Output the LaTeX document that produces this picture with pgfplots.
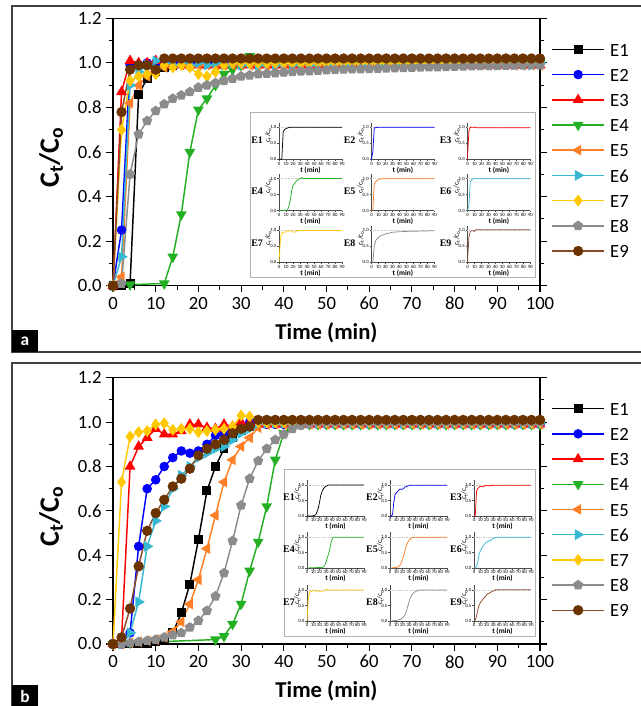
\documentclass[border=0pt]{standalone}
\usepackage{fontspec}
\setmainfont{Carlito}
\newfontfamily\tnr{Liberation Serif}
\usepackage{pgfplots}
\pgfplotsset{compat=1.18}
\usepackage{pgfplotstable}

\definecolor{cE1}{HTML}{000000}
\definecolor{cE2}{HTML}{0000FF}
\definecolor{cE3}{HTML}{FF0000}
\definecolor{cE4}{HTML}{22B022}
\definecolor{cE5}{HTML}{FF7F27}
\definecolor{cE6}{HTML}{36B8D2}
\definecolor{cE7}{HTML}{FFC800}
\definecolor{cE8}{HTML}{8C8C8C}
\definecolor{cE9}{HTML}{8A4B2A}
\definecolor{cE9m}{HTML}{6B3300}

% ---- panel a data (t in min, Ct/Co)
\pgfplotstableread[row sep=\\]{t y\\ 0 0\\ 2 0\\ 4 0.01\\ 6 0.86\\ 8 0.93\\ 10 0.96\\ 12 0.98\\ 14 0.99\\ 16 1\\ 18 1\\ 20 1\\ 22 1\\ 24 1\\ 26 1\\ 28 1\\ 30 1\\ 32 1\\ 34 1\\ 36 1\\ 38 1\\ 40 1\\ 42 1\\ 44 1\\ 46 1\\ 48 1\\ 50 1\\ 52 1\\ 54 1\\ 56 1\\ 58 1\\ 60 1\\ 62 1\\ 64 1\\ 66 1\\ 68 1\\ 70 1\\ 72 1\\ 74 1\\ 76 1\\ 78 1\\ 80 1\\ 82 1\\ 84 1\\ 86 1\\ 88 1\\ 90 1\\ 92 1\\ 94 1\\ 96 1\\ 98 1\\ 100 1\\}\taA
\pgfplotstableread[row sep=\\]{t y\\ 0 0\\ 2 0.25\\ 4 0.99\\ 6 0.99\\ 8 1\\ 10 1\\ 12 1\\ 14 1\\ 16 1\\ 18 1\\ 20 1\\ 22 1\\ 24 1\\ 26 1\\ 28 1\\ 30 1\\ 32 1\\ 34 1\\ 36 1\\ 38 1\\ 40 1\\ 42 1\\ 44 1\\ 46 1\\ 48 1\\ 50 1\\ 52 1\\ 54 1\\ 56 1\\ 58 1\\ 60 1\\ 62 1\\ 64 1\\ 66 1\\ 68 1\\ 70 1\\ 72 1\\ 74 1\\ 76 1\\ 78 1\\ 80 1\\ 82 1\\ 84 1\\ 86 1\\ 88 1\\ 90 1\\ 92 1\\ 94 1\\ 96 1\\ 98 1\\ 100 1\\}\taB
\pgfplotstableread[row sep=\\]{t y\\ 0 0\\ 2 0.87\\ 4 1.01\\ 6 1\\ 8 1\\ 10 1.01\\ 12 0.99\\ 14 0.99\\ 16 0.99\\ 18 0.99\\ 20 0.99\\ 22 0.99\\ 24 0.99\\ 26 0.99\\ 28 0.99\\ 30 0.99\\ 32 0.99\\ 34 0.99\\ 36 0.99\\ 38 0.99\\ 40 0.99\\ 42 0.99\\ 44 0.99\\ 46 0.99\\ 48 0.99\\ 50 0.99\\ 52 0.99\\ 54 0.99\\ 56 0.99\\ 58 0.99\\ 60 0.99\\ 62 0.99\\ 64 0.99\\ 66 0.99\\ 68 0.99\\ 70 0.99\\ 72 0.99\\ 74 0.99\\ 76 0.99\\ 78 0.99\\ 80 0.99\\ 82 0.99\\ 84 0.99\\ 86 0.99\\ 88 0.99\\ 90 0.99\\ 92 0.99\\ 94 0.99\\ 96 0.99\\ 98 0.99\\ 100 0.99\\}\taC
\pgfplotstableread[row sep=\\]{t y\\ 0 0\\ 4 0.005\\ 12 0.01\\ 14 0.13\\ 16 0.32\\ 18 0.60\\ 20 0.79\\ 22 0.84\\ 24 0.90\\ 26 0.95\\ 28 0.97\\ 30 0.99\\ 32 1.03\\ 34 1\\ 36 1\\ 38 1\\ 40 1\\ 42 1\\ 44 1\\ 46 1\\ 48 1\\ 50 1\\ 52 1\\ 54 1\\ 56 1\\ 58 1\\ 60 1\\ 62 1\\ 64 1\\ 66 1\\ 68 1\\ 70 1\\ 72 1\\ 74 1\\ 76 1\\ 78 1\\ 80 1\\ 82 1\\ 84 1\\ 86 1\\ 88 1\\ 90 1\\ 92 1\\ 94 1\\ 96 1\\ 98 1\\ 100 1\\}\taD
\pgfplotstableread[row sep=\\]{t y\\ 0 0\\ 2 0.04\\ 4 0.82\\ 6 0.90\\ 8 0.94\\ 10 0.96\\ 12 0.98\\ 14 0.99\\ 16 0.99\\ 18 0.99\\ 20 0.99\\ 22 0.99\\ 24 0.99\\ 26 0.99\\ 28 0.99\\ 30 0.99\\ 32 0.99\\ 34 0.99\\ 36 0.99\\ 38 0.99\\ 40 0.99\\ 42 0.99\\ 44 0.99\\ 46 0.99\\ 48 0.99\\ 50 0.99\\ 52 0.99\\ 54 0.99\\ 56 0.99\\ 58 0.99\\ 60 0.99\\ 62 0.99\\ 64 0.99\\ 66 0.99\\ 68 0.99\\ 70 0.99\\ 72 0.99\\ 74 0.99\\ 76 0.99\\ 78 0.99\\ 80 0.99\\ 82 0.99\\ 84 0.99\\ 86 0.99\\ 88 0.99\\ 90 0.99\\ 92 0.99\\ 94 0.99\\ 96 0.99\\ 98 0.99\\ 100 0.99\\}\taE
\pgfplotstableread[row sep=\\]{t y\\ 0 0\\ 2 0.13\\ 4 0.90\\ 6 0.96\\ 8 0.99\\ 10 1.01\\ 12 1\\ 14 0.99\\ 16 1\\ 18 0.99\\ 20 1\\ 22 0.99\\ 24 1\\ 26 0.99\\ 28 1\\ 30 0.99\\ 32 1\\ 34 0.99\\ 36 1\\ 38 0.99\\ 40 1\\ 42 0.99\\ 44 1\\ 46 0.99\\ 48 1\\ 50 0.99\\ 52 1\\ 54 0.99\\ 56 1\\ 58 0.99\\ 60 1\\ 62 0.99\\ 64 1\\ 66 0.99\\ 68 1\\ 70 0.99\\ 72 1\\ 74 0.99\\ 76 1\\ 78 0.99\\ 80 1\\ 82 0.99\\ 84 1\\ 86 0.99\\ 88 1\\ 90 0.99\\ 92 1\\ 94 0.99\\ 96 1\\ 98 0.99\\ 100 1\\}\taF
\pgfplotstableread[row sep=\\]{t y\\ 0 0\\ 2 0.70\\ 4 0.92\\ 6 0.94\\ 8 0.95\\ 10 0.95\\ 12 0.99\\ 14 0.98\\ 16 0.99\\ 18 0.98\\ 20 0.95\\ 22 0.94\\ 24 0.96\\ 26 0.99\\ 28 1\\ 30 1\\ 32 1\\ 34 1\\ 36 1\\ 38 1\\ 40 1\\ 42 1\\ 44 1\\ 46 1\\ 48 1\\ 50 1\\ 52 1\\ 54 1\\ 56 1\\ 58 1\\ 60 1\\ 62 1\\ 64 1\\ 66 1\\ 68 1\\ 70 1\\ 72 1\\ 74 1\\ 76 1\\ 78 1\\ 80 1\\ 82 1\\ 84 1\\ 86 1\\ 88 1\\ 90 1\\ 92 1\\ 94 1\\ 96 1\\ 98 1\\ 100 1\\}\taG
\pgfplotstableread[row sep=\\]{t y\\ 0 0\\ 2 0.01\\ 4 0.50\\ 6 0.68\\ 8 0.74\\ 10 0.785\\ 12 0.815\\ 14 0.84\\ 16 0.855\\ 18 0.87\\ 20 0.89\\ 22 0.90\\ 24 0.91\\ 26 0.92\\ 28 0.93\\ 30 0.94\\ 32 0.945\\ 34 0.95\\ 36 0.952\\ 38 0.955\\ 40 0.958\\ 42 0.96\\ 44 0.962\\ 46 0.964\\ 48 0.966\\ 50 0.968\\ 52 0.97\\ 54 0.971\\ 56 0.972\\ 58 0.973\\ 60 0.974\\ 62 0.975\\ 64 0.976\\ 66 0.977\\ 68 0.978\\ 70 0.979\\ 72 0.98\\ 74 0.981\\ 76 0.982\\ 78 0.983\\ 80 0.984\\ 82 0.985\\ 84 0.986\\ 86 0.987\\ 88 0.987\\ 90 0.988\\ 92 0.988\\ 94 0.989\\ 96 0.989\\ 98 0.99\\ 100 0.99\\}\taH
\pgfplotstableread[row sep=\\]{t y\\ 0 0\\ 2 0.78\\ 4 0.97\\ 6 0.99\\ 8 0.99\\ 10 0.97\\ 12 1.02\\ 14 1.02\\ 16 1.02\\ 18 1.02\\ 20 1.02\\ 22 1.02\\ 24 1.02\\ 26 1.02\\ 28 1.02\\ 30 1.02\\ 32 1.02\\ 34 1.02\\ 36 1.02\\ 38 1.02\\ 40 1.02\\ 42 1.02\\ 44 1.02\\ 46 1.02\\ 48 1.02\\ 50 1.02\\ 52 1.02\\ 54 1.02\\ 56 1.02\\ 58 1.02\\ 60 1.02\\ 62 1.02\\ 64 1.02\\ 66 1.02\\ 68 1.02\\ 70 1.02\\ 72 1.02\\ 74 1.02\\ 76 1.02\\ 78 1.02\\ 80 1.02\\ 82 1.02\\ 84 1.02\\ 86 1.02\\ 88 1.02\\ 90 1.02\\ 92 1.02\\ 94 1.02\\ 96 1.02\\ 98 1.02\\ 100 1.02\\}\taI

% ---- panel b data
\pgfplotstableread[row sep=\\]{t y\\ 0 0\\ 2 0\\ 4 0\\ 6 0\\ 8 0\\ 10 0.01\\ 12 0.02\\ 14 0.05\\ 16 0.14\\ 18 0.27\\ 20 0.47\\ 22 0.69\\ 24 0.80\\ 26 0.88\\ 28 0.93\\ 30 0.96\\ 32 0.98\\ 34 1\\ 36 1\\ 38 1\\ 40 1\\ 42 1\\ 44 1\\ 46 1\\ 48 1\\ 50 1\\ 52 1\\ 54 1\\ 56 1\\ 58 1\\ 60 1\\ 62 1\\ 64 1\\ 66 1\\ 68 1\\ 70 1\\ 72 1\\ 74 1\\ 76 1\\ 78 1\\ 80 1\\ 82 1\\ 84 1\\ 86 1\\ 88 1\\ 90 1\\ 92 1\\ 94 1\\ 96 1\\ 98 1\\ 100 1\\}\tbA
\pgfplotstableread[row sep=\\]{t y\\ 0 0\\ 2 0\\ 4 0.05\\ 6 0.44\\ 8 0.70\\ 10 0.74\\ 12 0.80\\ 14 0.84\\ 16 0.87\\ 18 0.86\\ 20 0.87\\ 22 0.90\\ 24 0.94\\ 26 0.95\\ 28 0.97\\ 30 0.98\\ 32 1\\ 34 0.99\\ 36 0.99\\ 38 0.99\\ 40 0.99\\ 42 0.99\\ 44 0.99\\ 46 0.99\\ 48 0.99\\ 50 0.99\\ 52 0.99\\ 54 0.99\\ 56 0.99\\ 58 0.99\\ 60 0.99\\ 62 0.99\\ 64 0.99\\ 66 0.99\\ 68 0.99\\ 70 0.99\\ 72 0.99\\ 74 0.99\\ 76 0.99\\ 78 0.99\\ 80 0.99\\ 82 0.99\\ 84 0.99\\ 86 0.99\\ 88 0.99\\ 90 0.99\\ 92 0.99\\ 94 0.99\\ 96 0.99\\ 98 0.99\\ 100 0.99\\}\tbB
\pgfplotstableread[row sep=\\]{t y\\ 0 0\\ 2 0.02\\ 4 0.80\\ 6 0.89\\ 8 0.93\\ 10 0.97\\ 12 0.945\\ 14 0.945\\ 16 0.96\\ 18 0.99\\ 20 0.99\\ 22 0.975\\ 24 0.97\\ 26 0.99\\ 28 0.98\\ 30 1\\ 32 0.995\\ 34 0.99\\ 36 0.99\\ 38 0.99\\ 40 0.99\\ 42 0.99\\ 44 0.99\\ 46 0.99\\ 48 0.99\\ 50 0.99\\ 52 0.99\\ 54 0.99\\ 56 0.99\\ 58 0.99\\ 60 0.99\\ 62 0.99\\ 64 0.99\\ 66 0.99\\ 68 0.99\\ 70 0.99\\ 72 0.99\\ 74 0.99\\ 76 0.99\\ 78 0.99\\ 80 0.99\\ 82 0.99\\ 84 0.99\\ 86 0.99\\ 88 0.99\\ 90 0.99\\ 92 0.99\\ 94 0.99\\ 96 0.99\\ 98 0.99\\ 100 0.99\\}\tbC
\pgfplotstableread[row sep=\\]{t y\\ 0 0\\ 4 0.005\\ 24 0.02\\ 26 0.035\\ 28 0.09\\ 30 0.18\\ 32 0.33\\ 34 0.46\\ 36 0.62\\ 38 0.83\\ 40 0.95\\ 42 0.99\\ 44 0.99\\ 46 0.99\\ 48 0.99\\ 50 0.99\\ 52 0.99\\ 54 0.99\\ 56 0.99\\ 58 0.99\\ 60 0.99\\ 62 0.99\\ 64 0.99\\ 66 0.99\\ 68 0.99\\ 70 0.99\\ 72 0.99\\ 74 0.99\\ 76 0.99\\ 78 0.99\\ 80 0.99\\ 82 0.99\\ 84 0.99\\ 86 0.99\\ 88 0.99\\ 90 0.99\\ 92 0.99\\ 94 0.99\\ 96 0.99\\ 98 0.99\\ 100 0.99\\}\tbD
\pgfplotstableread[row sep=\\]{t y\\ 0 0\\ 2 0\\ 4 0.005\\ 6 0.01\\ 8 0.015\\ 10 0.02\\ 12 0.03\\ 14 0.056\\ 16 0.10\\ 18 0.18\\ 20 0.29\\ 22 0.43\\ 24 0.58\\ 26 0.73\\ 28 0.83\\ 30 0.89\\ 32 0.93\\ 34 0.975\\ 36 0.99\\ 38 0.99\\ 40 0.99\\ 42 0.99\\ 44 0.99\\ 46 0.99\\ 48 0.99\\ 50 0.99\\ 52 0.99\\ 54 0.99\\ 56 0.99\\ 58 0.99\\ 60 0.99\\ 62 0.99\\ 64 0.99\\ 66 0.99\\ 68 0.99\\ 70 0.99\\ 72 0.99\\ 74 0.99\\ 76 0.99\\ 78 0.99\\ 80 0.99\\ 82 0.99\\ 84 0.99\\ 86 0.99\\ 88 0.99\\ 90 0.99\\ 92 0.99\\ 94 0.99\\ 96 0.99\\ 98 0.99\\ 100 0.99\\}\tbE
\pgfplotstableread[row sep=\\]{t y\\ 0 0\\ 2 0\\ 4 0.05\\ 6 0.19\\ 8 0.44\\ 10 0.555\\ 12 0.62\\ 14 0.70\\ 16 0.76\\ 18 0.80\\ 20 0.84\\ 22 0.86\\ 24 0.88\\ 26 0.89\\ 28 0.92\\ 30 0.95\\ 32 0.97\\ 34 0.995\\ 36 0.995\\ 38 0.995\\ 40 0.995\\ 42 0.995\\ 44 0.995\\ 46 0.995\\ 48 0.995\\ 50 0.995\\ 52 0.995\\ 54 0.995\\ 56 0.995\\ 58 0.995\\ 60 0.995\\ 62 0.995\\ 64 0.995\\ 66 0.995\\ 68 0.995\\ 70 0.995\\ 72 0.995\\ 74 0.995\\ 76 0.995\\ 78 0.995\\ 80 0.995\\ 82 0.995\\ 84 0.995\\ 86 0.995\\ 88 0.995\\ 90 0.995\\ 92 0.995\\ 94 0.995\\ 96 0.995\\ 98 0.995\\ 100 0.995\\}\tbF
\pgfplotstableread[row sep=\\]{t y\\ 0 0\\ 2 0.73\\ 4 0.935\\ 6 0.955\\ 8 0.96\\ 10 0.99\\ 12 0.995\\ 14 0.965\\ 16 0.97\\ 18 0.97\\ 20 0.955\\ 22 0.96\\ 24 0.965\\ 26 0.97\\ 28 0.98\\ 30 1.03\\ 32 1.025\\ 34 1\\ 36 1\\ 38 1\\ 40 1\\ 42 1\\ 44 1\\ 46 1\\ 48 1\\ 50 1\\ 52 1\\ 54 1\\ 56 1\\ 58 1\\ 60 1\\ 62 1\\ 64 1\\ 66 1\\ 68 1\\ 70 1\\ 72 1\\ 74 1\\ 76 1\\ 78 1\\ 80 1\\ 82 1\\ 84 1\\ 86 1\\ 88 1\\ 90 1\\ 92 1\\ 94 1\\ 96 1\\ 98 1\\ 100 1\\}\tbG
\pgfplotstableread[row sep=\\]{t y\\ 0 0\\ 2 0\\ 4 0.005\\ 6 0.01\\ 8 0.015\\ 10 0.02\\ 12 0.03\\ 14 0.04\\ 16 0.05\\ 18 0.075\\ 20 0.105\\ 22 0.15\\ 24 0.215\\ 26 0.32\\ 28 0.465\\ 30 0.625\\ 32 0.745\\ 34 0.825\\ 36 0.88\\ 38 0.92\\ 40 0.945\\ 42 0.97\\ 44 0.985\\ 46 0.995\\ 48 1\\ 50 1\\ 52 1\\ 54 1\\ 56 1\\ 58 1\\ 60 1\\ 62 1\\ 64 1\\ 66 1\\ 68 1\\ 70 1\\ 72 1\\ 74 1\\ 76 1\\ 78 1\\ 80 1\\ 82 1\\ 84 1\\ 86 1\\ 88 1\\ 90 1\\ 92 1\\ 94 1\\ 96 1\\ 98 1\\ 100 1\\}\tbH
\pgfplotstableread[row sep=\\]{t y\\ 0 0\\ 2 0.03\\ 4 0.16\\ 6 0.35\\ 8 0.51\\ 10 0.59\\ 12 0.65\\ 14 0.71\\ 16 0.745\\ 18 0.79\\ 20 0.85\\ 22 0.88\\ 24 0.90\\ 26 0.92\\ 28 0.95\\ 30 0.97\\ 32 0.98\\ 34 1.01\\ 36 1.01\\ 38 1.01\\ 40 1.01\\ 42 1.01\\ 44 1.01\\ 46 1.01\\ 48 1.01\\ 50 1.01\\ 52 1.01\\ 54 1.01\\ 56 1.01\\ 58 1.01\\ 60 1.01\\ 62 1.01\\ 64 1.01\\ 66 1.01\\ 68 1.01\\ 70 1.01\\ 72 1.01\\ 74 1.01\\ 76 1.01\\ 78 1.01\\ 80 1.01\\ 82 1.01\\ 84 1.01\\ 86 1.01\\ 88 1.01\\ 90 1.01\\ 92 1.01\\ 94 1.01\\ 96 1.01\\ 98 1.01\\ 100 1.01\\}\tbI

\pgfplotsset{
  mainax/.style={
    scale only axis, width=320.25pt, anchor=south west, clip=false,
    xmin=0, xmax=100, ymin=0, ymax=1.2,
    xtick={0,10,...,100}, ytick={0,0.2,0.4,0.6,0.8,1.0,1.2},
    minor x tick num=1, minor y tick num=1,
    tick align=outside, xtick pos=left, ytick pos=both,
    major tick length=5pt, minor tick length=3pt,
    axis line style={line width=0.9pt},
    every tick/.style={line width=0.8pt, black},
    /pgf/number format/assume math mode=true,
    tick label style={font=\fontsize{14}{14}\selectfont},
    yticklabel style={/pgf/number format/.cd, fixed, fixed zerofill, precision=1},
    xlabel={\textbf{Time (min)}},
    xlabel style={font=\fontsize{17}{17}\selectfont, at={(axis description cs:0.5,-0.176)}, anchor=center},
    ylabel={\textbf{C\textsubscript{t}/C\textsubscript{o}}},
    ylabel style={font=\fontsize{21}{21}\selectfont, at={(axis description cs:-0.145,0.48)}, anchor=center},
    legend image code/.code={\draw[mark repeat=2,mark phase=2] plot coordinates {(0pt,0pt) (19.5pt,0pt) (39pt,0pt)};},
    legend cell align=left,
    legend style={draw=none, fill=none, at={(1.026,0.91)}, anchor=north west,
      inner sep=0pt, font=\fontsize{14}{14}\selectfont, row sep=8.9pt, column sep=4pt,
      nodes={inner sep=0pt, text height=10pt, text depth=0pt}},
  },
  sE1/.style={color=cE1, line width=1.1pt, mark=square*, mark size=2.8pt},
  sE2/.style={color=cE2, line width=1.1pt, mark=*, mark size=3pt},
  sE3/.style={color=cE3, line width=1.1pt, mark=triangle*, mark size=3.6pt},
  sE4/.style={color=cE4, line width=1.1pt, mark=triangle*, mark size=3.6pt, mark options={rotate=180}},
  sE5/.style={color=cE5, line width=1.1pt, mark=triangle*, mark size=3.6pt, mark options={rotate=90}},
  sE6/.style={color=cE6, line width=1.1pt, mark=triangle*, mark size=3.6pt, mark options={rotate=-90}},
  sE7/.style={color=cE7, line width=1.1pt, mark=diamond*, mark size=3.6pt},
  sE8/.style={color=cE8, line width=1.1pt, mark=pentagon*, mark size=3.3pt},
  sE9/.style={color=cE9, line width=1.1pt, mark=*, mark size=3.3pt, mark options={fill=cE9m, draw=cE9m}},
  smallax/.style={
    scale only axis, anchor=south west, clip mode=individual,
    xmin=0, xmax=90, ymin=0, ymax=1.15,
    axis lines*=left, axis line style={line width=0.35pt, black!70},
    xtick={0,10,...,90}, ytick={0,0.5,1},
    /pgf/number format/assume math mode=true,
    yticklabel style={/pgf/number format/.cd, fixed, fixed zerofill, precision=1},
    tick label style={font=\fontsize{3.6}{3.6}\selectfont, inner sep=0.6pt},
    major tick length=1.2pt, tick align=outside,
    every tick/.style={line width=0.3pt, black!70},
    xlabel={\textbf{t (min)}},
    xlabel style={font=\fontsize{5.5}{5.5}\selectfont, at={(axis description cs:0.5,-0.3)}, anchor=center},
    ylabel={c\textsubscript{t}/c\textsubscript{o}},
    ylabel style={font=\fontsize{5.5}{5.5}\selectfont, at={(axis description cs:-0.17,0.66)}, anchor=center},
  },
}

% x, y, width, height, table, colour, name, label offset
\newcommand{\smallplot}[8]{%
  \begin{axis}[smallax, at={(#1,#2)}, width=#3, height=#4]
    \draw[gray!45, densely dotted, line width=0.3pt] (axis cs:0,1) -- (axis cs:90,1);
    \addplot[color=#6, line width=0.55pt, no marks] table[x=t,y=y]{#5};
    \node[anchor=east, inner sep=0pt, font=\tnr\bfseries\fontsize{7.5}{7.5}\selectfont]
      at (axis description cs:#8,0.52) {#7};
  \end{axis}}

\begin{document}
\begin{tikzpicture}
\path[use as bounding box] (0,0) rectangle (480pt,-529.5pt);

% panel frames and tags
\draw[line width=0.9pt, black!75] (9pt,-4.5pt) rectangle (490pt,-264pt);
\draw[line width=0.9pt, black!75] (9pt,-272.25pt) rectangle (490pt,-545pt);
\fill[black] (9pt,-247.5pt) rectangle (28.5pt,-264pt);
\node[white, font=\bfseries\fontsize{13}{13}\selectfont] at (18.75pt,-255.75pt) {a};
\fill[black] (9pt,-513.75pt) rectangle (28.5pt,-535pt);
\node[white, font=\bfseries\fontsize{13}{13}\selectfont] at (18.75pt,-522pt) {b};

% ---------------- panel a
\begin{axis}[mainax, at={(84.75pt,-214.3pt)}, height=200.5pt]
\addplot[sE1] table[x=t,y=y]{\taA};
\addplot[sE2] table[x=t,y=y]{\taB};
\addplot[sE3] table[x=t,y=y]{\taC};
\addplot[sE4] table[x=t,y=y]{\taD};
\addplot[sE5] table[x=t,y=y]{\taE};
\addplot[sE6] table[x=t,y=y]{\taF};
\addplot[sE7] table[x=t,y=y]{\taG};
\addplot[sE8] table[x=t,y=y]{\taH};
\addplot[sE9] table[x=t,y=y]{\taI};
\legend{E1,E2,E3,E4,E5,E6,E7,E8,E9}
\end{axis}

\draw[gray!60, line width=0.5pt, fill=white] (187.5pt,-84pt) rectangle (401.25pt,-207.75pt);
\smallplot{209.25pt}{-119.5pt}{47.25pt}{27.6pt}{\taA}{cE1}{E1}{-0.25}
\smallplot{278.6pt}{-119.5pt}{47.25pt}{27.6pt}{\taB}{cE2}{E2}{-0.25}
\smallplot{350.6pt}{-119.5pt}{47.25pt}{27.6pt}{\taC}{cE3}{E3}{-0.25}
\smallplot{209.25pt}{-157.9pt}{47.25pt}{27.6pt}{\taD}{cE4}{E4}{-0.25}
\smallplot{278.6pt}{-157.9pt}{47.25pt}{27.6pt}{\taE}{cE5}{E5}{-0.25}
\smallplot{350.6pt}{-157.9pt}{47.25pt}{27.6pt}{\taF}{cE6}{E6}{-0.25}
\smallplot{209.25pt}{-196.8pt}{47.25pt}{27.6pt}{\taG}{cE7}{E7}{-0.25}
\smallplot{278.6pt}{-196.8pt}{47.25pt}{27.6pt}{\taH}{cE8}{E8}{-0.25}
\smallplot{350.6pt}{-196.8pt}{47.25pt}{27.6pt}{\taI}{cE9}{E9}{-0.25}

% ---------------- panel b
\begin{axis}[mainax, at={(84.75pt,-483pt)}, height=199.7pt]
\addplot[sE1] table[x=t,y=y]{\tbA};
\addplot[sE2] table[x=t,y=y]{\tbB};
\addplot[sE3] table[x=t,y=y]{\tbC};
\addplot[sE4] table[x=t,y=y]{\tbD};
\addplot[sE5] table[x=t,y=y]{\tbE};
\addplot[sE6] table[x=t,y=y]{\tbF};
\addplot[sE7] table[x=t,y=y]{\tbG};
\addplot[sE8] table[x=t,y=y]{\tbH};
\addplot[sE9] table[x=t,y=y]{\tbI};
\legend{E1,E2,E3,E4,E5,E6,E7,E8,E9}
\end{axis}

\draw[gray!60, line width=0.5pt, fill=white] (213pt,-351.75pt) rectangle (401.25pt,-477pt);
\smallplot{230.25pt}{-387pt}{42.75pt}{26.7pt}{\tbA}{cE1}{E1}{-0.21}
\smallplot{292.5pt}{-387pt}{42.75pt}{26.7pt}{\tbB}{cE2}{E2}{-0.21}
\smallplot{355.5pt}{-387pt}{42.75pt}{26.7pt}{\tbC}{cE3}{E3}{-0.21}
\smallplot{230.25pt}{-426pt}{42.75pt}{26.7pt}{\tbD}{cE4}{E4}{-0.21}
\smallplot{292.5pt}{-426pt}{42.75pt}{26.7pt}{\tbE}{cE5}{E5}{-0.21}
\smallplot{355.5pt}{-426pt}{42.75pt}{26.7pt}{\tbF}{cE6}{E6}{-0.21}
\smallplot{230.25pt}{-465.75pt}{42.75pt}{26.7pt}{\tbG}{cE7}{E7}{-0.21}
\smallplot{292.5pt}{-465.75pt}{42.75pt}{26.7pt}{\tbH}{cE8}{E8}{-0.21}
\smallplot{355.5pt}{-465.75pt}{42.75pt}{26.7pt}{\tbI}{cE9}{E9}{-0.21}
\end{tikzpicture}
\end{document}
